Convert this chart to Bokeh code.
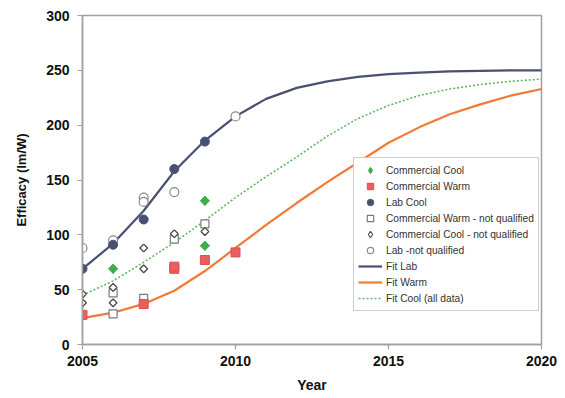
import numpy as np
from bokeh.plotting import figure
from bokeh.models import Legend, LegendItem, FixedTicker, Range1d
from bokeh.embed import file_html
from bokeh.resources import INLINE

# Measured LED efficacy (lm/W) by year
cc_year = [2006, 2009, 2009]
cc_val = [69, 131, 90]

cw_year = [2005, 2007, 2008, 2008, 2009, 2010]
cw_val = [27, 37, 69, 71, 77, 84]

lab_year = [2005, 2006, 2007, 2008, 2009]
lab_val = [69, 91, 114, 160, 185]

cwnq_year = [2006, 2006, 2007, 2008, 2009]
cwnq_val = [28, 47, 42, 96, 110]

ccnq_year = [2005, 2005, 2006, 2006, 2007, 2007, 2008, 2009]
ccnq_val = [46, 38, 52, 38, 88, 69, 101, 103]

labnq_year = [2005, 2006, 2007, 2007, 2008, 2010]
labnq_val = [88, 95, 134, 130, 139, 208]

# Fitted projection curves, one value per year 2005-2020
fit_year = list(range(2005, 2021))
fit_lab = [69, 92, 122, 158, 186, 208, 224, 234, 240, 244, 246.5, 248, 249, 249.5, 250, 250]
fit_warm = [24, 29, 37, 49, 67, 88, 109, 129, 148, 166, 184, 198, 210, 219, 227, 233]
fit_cool = [45, 58, 75, 93, 113, 134, 153, 171, 190, 206, 218, 227, 233, 237, 240, 242]

x_ticks = [2005, 2010, 2015, 2020]
y_ticks = [0, 50, 100, 150, 200, 250, 300]

FONT = "Liberation Sans"
GRID = "#a0a0a0"
GREEN = "#3fae4a"
DARK_OPEN = "#4a4a4a"

p = figure(width=565, height=398, output_backend="svg", toolbar_location=None,
           x_range=Range1d(2005, 2020), y_range=Range1d(0, 300))
p.min_border_left = 82
p.min_border_right = 24
p.min_border_top = 15
p.min_border_bottom = 54

p.outline_line_color = GRID
p.outline_line_width = 1.5
p.xgrid.visible = False
p.ygrid.visible = False

for ax in (p.xaxis[0], p.yaxis[0]):
    ax.axis_line_color = GRID
    ax.axis_line_width = 1.5
    ax.major_tick_line_color = GRID
    ax.major_tick_line_width = 1.2
    ax.major_tick_in = 0
    ax.major_tick_out = 5
    ax.minor_tick_line_color = None
    ax.major_label_text_font = FONT
    ax.major_label_text_font_style = "bold"
    ax.major_label_text_font_size = "14px"
    ax.major_label_text_color = "#111111"
    ax.axis_label_text_font = FONT
    ax.axis_label_text_font_style = "bold"
    ax.axis_label_text_color = "#111111"

p.xaxis.ticker = FixedTicker(ticks=x_ticks)
p.yaxis.ticker = FixedTicker(ticks=y_ticks)
p.xaxis.axis_label = "Year"
p.xaxis.axis_label_text_font_size = "14px"
p.xaxis.axis_label_standoff = 8
p.xaxis.major_label_standoff = 6
p.yaxis.axis_label = "Efficacy (lm/W)"
p.yaxis.axis_label_text_font_size = "13px"
p.yaxis.axis_label_standoff = 14
p.yaxis.major_label_standoff = 8

# Fit curves
r_fit_lab = p.line(fit_year, fit_lab, line_color="#4a5072", line_width=2.2)
r_fit_warm = p.line(fit_year, fit_warm, line_color="#f07a36", line_width=2.2)
r_fit_cool = p.line(fit_year, fit_cool, line_color="#5cb860", line_width=1.6,
                    line_dash="2 2")

# Data points. Diamond series: a narrow diamond (used for the legend key)
# under a square turned by 45 degrees, which gives the wider on-chart shape.
r_labnq = p.scatter(labnq_year, labnq_val, marker="circle", size=9,
                    fill_color="white", line_color="#8a8a8a", line_width=1.2)
r_cwnq = p.scatter(cwnq_year, cwnq_val, marker="square", size=8,
                   fill_color="white", line_color="#7a7a7a", line_width=1.2)
r_ccnq = p.scatter(ccnq_year, ccnq_val, marker="diamond", size=7,
                   fill_color="white", line_color=DARK_OPEN, line_width=1.1)
p.scatter(ccnq_year, ccnq_val, marker="square", angle=np.pi / 4, size=5.5,
          fill_color="white", line_color=DARK_OPEN, line_width=1.3)
r_lab = p.scatter(lab_year, lab_val, marker="circle", size=9,
                  fill_color="#4a5072", line_color="#4a5072")
r_cw = p.scatter(cw_year, cw_val, marker="square", size=9,
                 fill_color="#ea5f5e", line_color="#d85050")
r_cc = p.scatter(cc_year, cc_val, marker="diamond", size=9,
                 fill_color=GREEN, line_color=GREEN)
p.scatter(cc_year, cc_val, marker="square", angle=np.pi / 4, size=6.5,
          fill_color=GREEN, line_color=GREEN)

legend = Legend(items=[
    LegendItem(label="Commercial Cool", renderers=[r_cc]),
    LegendItem(label="Commercial Warm", renderers=[r_cw]),
    LegendItem(label="Lab Cool", renderers=[r_lab]),
    LegendItem(label="Commercial Warm - not qualified", renderers=[r_cwnq]),
    LegendItem(label="Commercial Cool - not qualified", renderers=[r_ccnq]),
    LegendItem(label="Lab -not qualified", renderers=[r_labnq]),
    LegendItem(label="Fit Lab", renderers=[r_fit_lab]),
    LegendItem(label="Fit Warm", renderers=[r_fit_warm]),
    LegendItem(label="Fit Cool (all data)", renderers=[r_fit_cool]),
], location=(271, 33))
legend.label_text_font = FONT
legend.label_text_font_size = "10.2px"
legend.label_text_color = "#333333"
legend.glyph_width = 24
legend.glyph_height = 16
legend.label_height = 16
legend.label_standoff = 4
legend.spacing = 0
legend.padding = 4
legend.margin = 0
legend.border_line_color = "#9a9a9a"
legend.border_line_width = 1.5
legend.background_fill_color = "white"
legend.background_fill_alpha = 1.0
p.add_layout(legend, "center")

open("out.html", "w").write(file_html(p, INLINE))
